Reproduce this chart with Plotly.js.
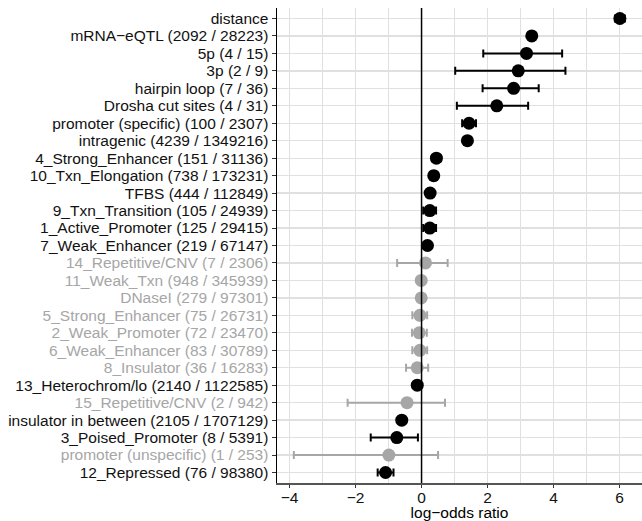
<!DOCTYPE html>
<html>
<head>
<meta charset="utf-8">
<script src="https://cdn.plot.ly/plotly-3.0.1.min.js"></script>
<style>html,body{margin:0;padding:0;background:#fff;}#chart{width:642px;height:521px;}</style>
</head>
<body>
<div id="chart"></div>
<script>
// Categories, top to bottom
const categories = [
  "distance",
  "mRNA\u2212eQTL (2092 / 28223)",
  "5p (4 / 15)",
  "3p (2 / 9)",
  "hairpin loop (7 / 36)",
  "Drosha cut sites (4 / 31)",
  "promoter (specific) (100 / 2307)",
  "intragenic (4239 / 1349216)",
  "4_Strong_Enhancer (151 / 31136)",
  "10_Txn_Elongation (738 / 173231)",
  "TFBS (444 / 112849)",
  "9_Txn_Transition (105 / 24939)",
  "1_Active_Promoter (125 / 29415)",
  "7_Weak_Enhancer (219 / 67147)",
  "14_Repetitive/CNV (7 / 2306)",
  "11_Weak_Txn (948 / 345939)",
  "DNaseI (279 / 97301)",
  "5_Strong_Enhancer (75 / 26731)",
  "2_Weak_Promoter (72 / 23470)",
  "6_Weak_Enhancer (83 / 30789)",
  "8_Insulator (36 / 16283)",
  "13_Heterochrom/lo (2140 / 1122585)",
  "15_Repetitive/CNV (2 / 942)",
  "insulator in between (2105 / 1707129)",
  "3_Poised_Promoter (8 / 5391)",
  "promoter (unspecific) (1 / 253)",
  "12_Repressed (76 / 98380)"
];
// log-odds ratio estimates
const logOdds = [6.01, 3.34, 3.18, 2.93, 2.79, 2.28, 1.44, 1.39, 0.45, 0.37, 0.26, 0.25, 0.25, 0.18,
                 0.12, -0.01, -0.01, -0.05, -0.07, -0.05, -0.13, -0.13, -0.44, -0.60, -0.75, -0.99, -1.09];
// lower and upper confidence limits
const lower = [5.86, 3.26, 1.87, 1.02, 1.85, 1.07, 1.23, 1.34, 0.32, 0.28, 0.17, 0.05, 0.05, 0.09,
               -0.74, -0.10, -0.10, -0.28, -0.29, -0.28, -0.47, -0.21, -2.24, -0.68, -1.54, -3.87, -1.33];
const upper = [6.16, 3.42, 4.26, 4.36, 3.55, 3.23, 1.65, 1.44, 0.58, 0.46, 0.35, 0.44, 0.44, 0.27,
               0.79, 0.08, 0.08, 0.17, 0.16, 0.17, 0.20, -0.05, 0.71, -0.52, -0.11, 0.50, -0.85];
// significant (black) vs not significant (grey)
const significant = [1,1,1,1,1,1,1,1,1,1,1,1,1,1, 0,0,0,0,0,0,0, 1, 0, 1, 1, 0, 1];

const BLACK = "#000000";
const GREY = "#A6A6A6";

function buildTrace(flag, color) {
  const y = [], x = [], ep = [], em = [];
  categories.forEach((c, i) => {
    if (significant[i] === flag) {
      y.push(c); x.push(logOdds[i]);
      ep.push(upper[i] - logOdds[i]);
      em.push(logOdds[i] - lower[i]);
    }
  });
  return {
    type: "scatter", mode: "markers", x: x, y: y,
    marker: {color: color, size: 13, line: {width: 0}},
    error_x: {type: "data", symmetric: false, array: ep, arrayminus: em,
              color: color, thickness: 2, width: 4},
    hoverinfo: "x+y", showlegend: false
  };
}

const traces = [buildTrace(0, GREY), buildTrace(1, BLACK)];

const tickText = categories.map((c, i) =>
  '<span style="color:' + (significant[i] ? "#111111" : GREY) + '">' + c + '</span>');

const layout = {
  width: 642, height: 521,
  margin: {l: 277, r: 0, t: 8, b: 38, pad: 0},
  paper_bgcolor: "#ffffff", plot_bgcolor: "#ffffff",
  font: {family: "Liberation Sans, Arial, sans-serif", size: 15.5, color: "#111111"},
  xaxis: {
    range: [-4.38, 6.68], dtick: 2, tick0: 0,
    showgrid: true, gridcolor: "#E0E0E0", gridwidth: 1.3,
    minor: {dtick: 1, showgrid: true, gridcolor: "#E0E0E0", gridwidth: 1},
    zeroline: false,
    showline: true, linecolor: "#555555", linewidth: 2,
    ticks: "outside", ticklen: 3, tickcolor: "#333333", tickwidth: 1,
    ticklabelstandoff: -4,
    tickfont: {size: 15.5, color: "#111111"},
    title: {text: "log\u2212odds ratio", font: {size: 15.5, color: "#000000"}, standoff: 0}
  },
  yaxis: {
    type: "category", categoryorder: "array", categoryarray: categories,
    range: [26.6, -0.6],
    tickvals: categories, ticktext: tickText,
    showgrid: true, gridcolor: "#E0E0E0", gridwidth: 1.3,
    zeroline: false,
    showline: true, linecolor: "#000000", linewidth: 1.5,
    ticks: "outside", ticklen: 4, tickcolor: "#333333", tickwidth: 1,
    tickfont: {size: 15.5}
  },
  shapes: [{
    type: "line", xref: "x", yref: "paper", x0: 0, x1: 0, y0: 0, y1: 1,
    line: {color: "#000000", width: 1.5}, layer: "above"
  }]
};

Plotly.newPlot("chart", traces, layout, {staticPlot: true, displayModeBar: false});
</script>
</body>
</html>
